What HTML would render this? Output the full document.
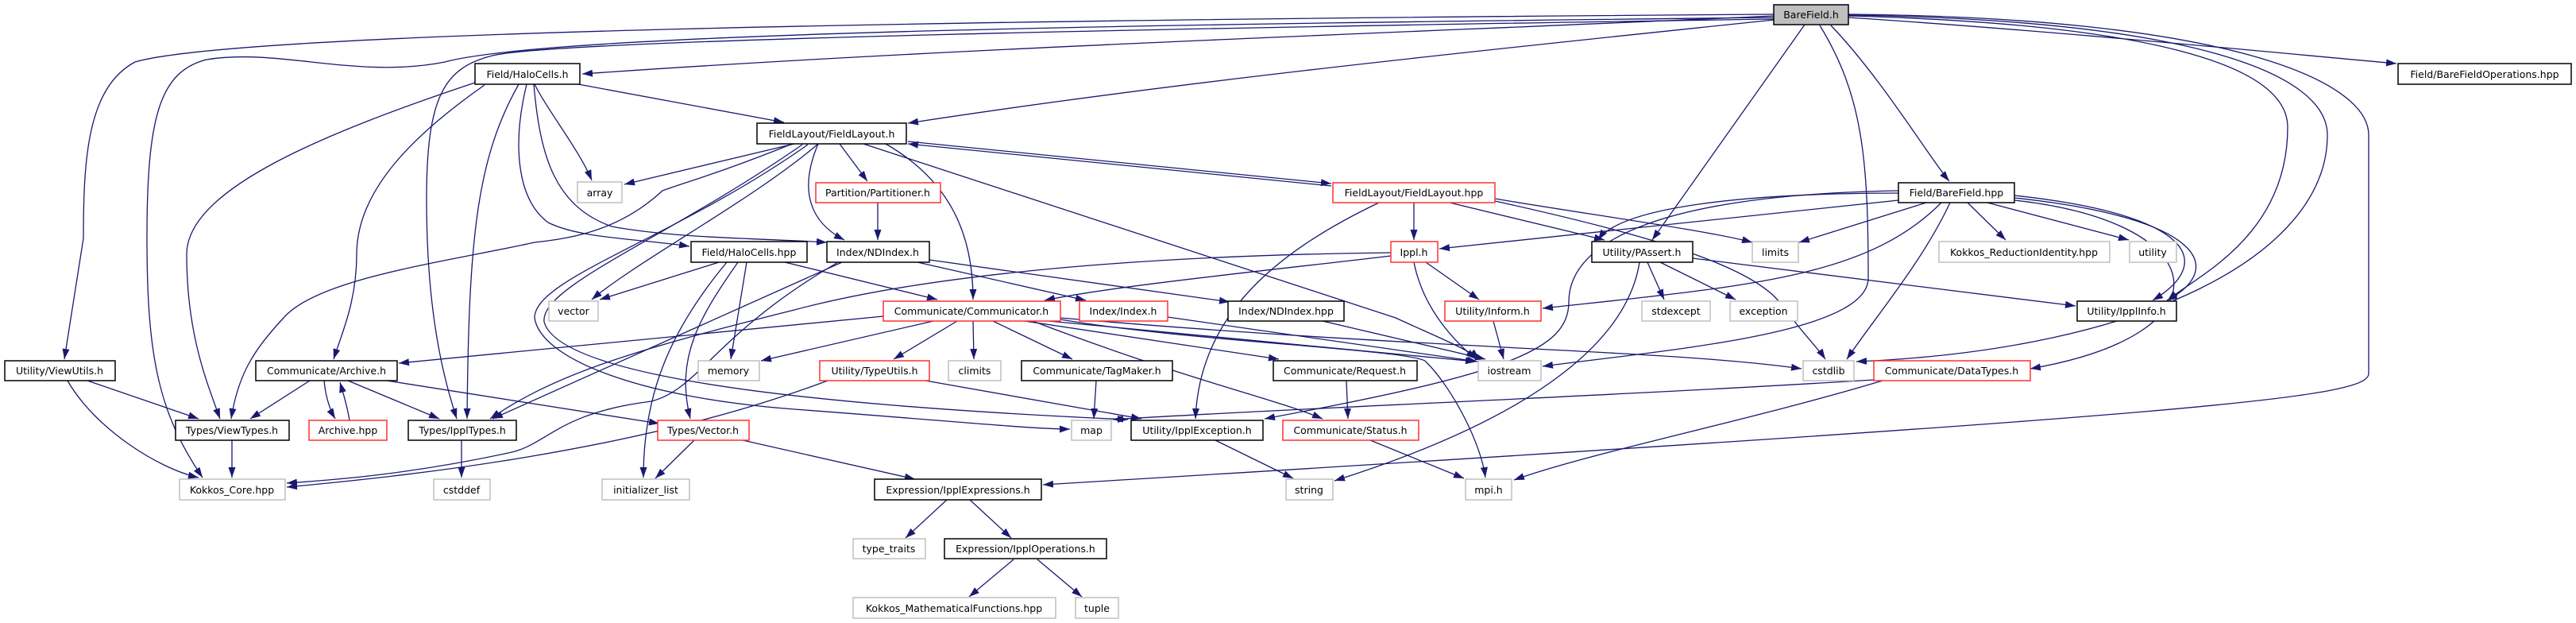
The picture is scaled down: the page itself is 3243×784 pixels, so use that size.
<!DOCTYPE html>
<html><head><meta charset="utf-8"><style>
html,body{margin:0;padding:0;background:#fff;}
svg{display:block;}
text{font-family:"DejaVu Sans","Liberation Sans",sans-serif;font-size:12.5px;fill:#000;}
.e{fill:none;stroke:#191970;stroke-width:1.3;marker-end:url(#a);}
.n rect{fill:#fff;stroke:#000;stroke-width:1.5;}
.g rect{fill:#fff;stroke:#bfbfbf;stroke-width:1.5;}
.r rect{fill:#fff;stroke:#ff3030;stroke-width:1.5;}
</style></head><body>
<svg width="3243" height="784" viewBox="0 0 3243 784" xmlns="http://www.w3.org/2000/svg">
<defs><marker id="a" markerUnits="userSpaceOnUse" markerWidth="13" markerHeight="10" viewBox="0 0 13 10" refX="13" refY="5" orient="auto"><path d="M0,0.5 L13,5 L0,9.5 z" fill="#191970"/></marker></defs>

<!-- edges -->
<path class="e" d="M2233,20 C1800,40 1200,60 733,93"/>
<path class="e" d="M2233,25 C1900,60 1500,100 1143,155"/>
<path class="e" d="M2233,18 C1200,25 300,40 170,78 C110,110 105,200 105,300 L81,452"/>
<path class="e" d="M2233,22 C1500,30 700,40 560,78 C450,100 350,60 260,75 C200,90 185,150 185,300 C185,450 200,520 255,601"/>
<path class="e" d="M2233,24 C1500,35 700,50 620,70 C560,85 537,120 537,250 C537,400 560,480 575,527"/>
<path class="e" d="M2272,31 L2080,302"/>
<path class="e" d="M2291,32 C2345,120 2352,200 2352,350 C2352,420 2100,440 1942,461"/>
<path class="e" d="M2305,32 C2370,100 2430,200 2454,228"/>
<path class="e" d="M2327,22 C2600,40 2850,65 3017,80"/>
<path class="e" d="M2327,20 C2700,30 2880,80 2880,160 C2880,300 2760,350 2729,378"/>
<path class="e" d="M2327,19 C2750,25 2930,90 2930,170 C2930,320 2700,440 2337,455"/>
<path class="e" d="M2327,18 C2800,22 2982,100 2982,170 L2982,470 C2982,500 2800,520 1313,610"/>

<path class="e" d="M728,106 L987,154"/>
<path class="e" d="M673,106 C690,140 730,190 745,227"/>
<path class="e" d="M663,106 C645,180 650,250 690,280 C730,300 800,300 868,310"/>
<path class="e" d="M672,106 C680,200 700,260 770,285 C850,300 960,300 1041,305"/>
<path class="e" d="M653,106 C600,200 590,300 588,527"/>
<path class="e" d="M598,104 C400,170 235,240 235,320 C235,420 260,480 277,527"/>
<path class="e" d="M610,107 C520,170 449,240 449,320 C449,380 430,420 420,452"/>

<path class="e" d="M1000,181 L786,232"/>
<path class="e" d="M1057,181 L1092,228"/>
<path class="e" d="M1030,181 C1005,240 1020,280 1063,302"/>
<path class="e" d="M1143,178 L1676,231"/>
<path class="e" d="M1676,234 L1143,181"/>
<path class="e" d="M1030,181 C950,250 800,330 745,377"/>
<path class="e" d="M1115,181 C1200,230 1225,300 1225,377"/>
<path class="e" d="M1087,181 L1757,400 C1800,420 1850,440 1862,452"/>
<path class="e" d="M995,182 C900,220 860,230 834,240 C780,290 720,300 673,305 C560,330 400,350 357,400 C320,440 300,470 291,527"/>
<path class="e" d="M1017,182 C850,300 673,350 673,400 C680,450 800,500 1000,515 C1200,530 1300,540 1347,540"/>
<path class="e" d="M1010,182 C840,300 680,360 685,405 C700,460 900,505 1420,528"/>

<path class="e" d="M905,330 L755,377"/>
<path class="e" d="M940,330 L920,452"/>
<path class="e" d="M988,330 L1180,377"/>
<path class="e" d="M929,330 C880,400 850,450 869,527"/>
<path class="e" d="M915,330 C840,420 810,500 810,601"/>
<path class="e" d="M1060,330 L620,527"/>
<path class="e" d="M1055,330 C900,420 880,490 820,505 C700,520 690,560 640,570 C500,600 400,605 361,608"/>
<path class="e" d="M1155,330 L1367,378"/>
<path class="e" d="M1170,327 L1548,380"/>
<path class="e" d="M1105,255 L1105,302"/>

<path class="e" d="M1780,255 L1780,302"/>
<path class="e" d="M1825,255 L2020,302"/>
<path class="e" d="M1882,250 C2000,270 2150,290 2206,305"/>
<path class="e" d="M1882,253 C2050,290 2200,330 2240,380 C2270,420 2290,440 2298,452"/>
<path class="e" d="M1736,255 C1600,320 1510,400 1505,527"/>

<path class="e" d="M2390,252 L1812,313"/>
<path class="e" d="M2390,243 C2200,243 2040,260 2012,302"/>
<path class="e" d="M2390,240 C2100,245 1975,300 1975,380 C1975,440 1900,470 1592,527"/>
<path class="e" d="M2425,255 L2265,305"/>
<path class="e" d="M2455,255 C2420,330 2360,400 2325,452"/>
<path class="e" d="M2477,255 L2525,302"/>
<path class="e" d="M2502,255 L2680,302"/>
<path class="e" d="M2536,246 C2760,270 2790,330 2710,378"/>
<path class="e" d="M2536,249 C2780,275 2800,340 2728,378"/>
<path class="e" d="M2536,252 C2790,280 2810,420 2556,464"/>
<path class="e" d="M2444,255 C2350,350 2200,360 1942,388"/>
<path class="e" d="M2359,478 C2000,500 1600,515 1401,528"/>
<path class="e" d="M2370,479 C2200,530 2000,570 1906,604"/>

<path class="e" d="M1751,322 C1600,340 1400,360 1315,378"/>
<path class="e" d="M1795,330 L1862,377"/>
<path class="e" d="M1780,330 C1790,380 1820,420 1858,452"/>
<path class="e" d="M1751,318 C1400,322 1150,350 1000,390 C800,440 700,470 617,527"/>

<path class="e" d="M2074,330 L2095,377"/>
<path class="e" d="M2090,330 L2185,377"/>
<path class="e" d="M2131,325 L2613,385"/>
<path class="e" d="M2064,330 C2050,420 1950,520 1680,605"/>

<path class="e" d="M1112,398 L502,457"/>
<path class="e" d="M1175,404 L958,454"/>
<path class="e" d="M1205,404 L1125,452"/>
<path class="e" d="M1225,404 L1226,452"/>
<path class="e" d="M1250,404 L1350,452"/>
<path class="e" d="M1290,404 L1610,452"/>
<path class="e" d="M1300,404 C1500,480 1600,500 1665,527"/>
<path class="e" d="M1335,402 C1500,430 1780,440 1795,455 C1830,490 1865,560 1870,601"/>
<path class="e" d="M1335,400 C1800,440 2100,440 2268,464"/>
<path class="e" d="M1320,404 L1858,455"/>
<path class="e" d="M1470,399 L1860,455"/>
<path class="e" d="M1665,404 L1870,452"/>
<path class="e" d="M1880,404 L1893,452"/>

<path class="e" d="M1042,479 C800,570 500,600 361,613"/>
<path class="e" d="M1165,479 L1437,527"/>
<path class="e" d="M1380,479 L1377,527"/>
<path class="e" d="M1695,479 L1697,527"/>
<path class="e" d="M1530,554 L1628,602"/>
<path class="e" d="M1725,554 L1843,602"/>

<path class="e" d="M390,479 L315,527"/>
<path class="e" d="M408,479 C410,500 415,515 422,527"/>
<path class="e" d="M438,479 L553,527"/>
<path class="e" d="M487,479 L830,533"/>
<path class="e" d="M440,529 C437,510 432,495 428,481"/>
<path class="e" d="M110,479 L250,527"/>
<path class="e" d="M85,479 C120,540 200,590 250,601"/>
<path class="e" d="M292,554 L292,601"/>
<path class="e" d="M581,554 L581,601"/>
<path class="e" d="M874,554 L825,602"/>
<path class="e" d="M935,554 L1152,603"/>
<path class="e" d="M1192,629 L1140,677"/>
<path class="e" d="M1221,629 L1273,677"/>
<path class="e" d="M1276,704 L1220,751"/>
<path class="e" d="M1306,704 L1362,751"/>

<!-- nodes -->
<g class="n"><rect x="2233" y="6" width="94" height="25" style="fill:#bfbfbf"/><text x="2280" y="23" text-anchor="middle">BareField.h</text></g>
<g class="n"><rect x="598" y="80" width="132" height="26"/><text x="664" y="98" text-anchor="middle">Field/HaloCells.h</text></g>
<g class="n"><rect x="3019" y="80" width="218" height="26"/><text x="3128" y="98" text-anchor="middle">Field/BareFieldOperations.hpp</text></g>
<g class="n"><rect x="953" y="155" width="188" height="26"/><text x="1047" y="173" text-anchor="middle">FieldLayout/FieldLayout.h</text></g>
<g class="g"><rect x="727" y="229" width="56" height="26"/><text x="755" y="247" text-anchor="middle">array</text></g>
<g class="r"><rect x="1027" y="230" width="157" height="25"/><text x="1105" y="247" text-anchor="middle">Partition/Partitioner.h</text></g>
<g class="r"><rect x="1678" y="230" width="204" height="25"/><text x="1780" y="247" text-anchor="middle">FieldLayout/FieldLayout.hpp</text></g>
<g class="n"><rect x="2390" y="230" width="146" height="25"/><text x="2463" y="247" text-anchor="middle">Field/BareField.hpp</text></g>
<g class="n"><rect x="870" y="304" width="146" height="26"/><text x="943" y="322" text-anchor="middle">Field/HaloCells.hpp</text></g>
<g class="n"><rect x="1041" y="304" width="129" height="26"/><text x="1105" y="322" text-anchor="middle">Index/NDIndex.h</text></g>
<g class="r"><rect x="1751" y="304" width="59" height="26"/><text x="1780" y="322" text-anchor="middle">Ippl.h</text></g>
<g class="n"><rect x="2004" y="304" width="127" height="26"/><text x="2067" y="322" text-anchor="middle">Utility/PAssert.h</text></g>
<g class="g"><rect x="2206" y="304" width="58" height="26"/><text x="2235" y="322" text-anchor="middle">limits</text></g>
<g class="g"><rect x="2441" y="304" width="215" height="26"/><text x="2548" y="322" text-anchor="middle">Kokkos_ReductionIdentity.hpp</text></g>
<g class="g"><rect x="2681" y="304" width="59" height="26"/><text x="2710" y="322" text-anchor="middle">utility</text></g>
<g class="g"><rect x="691" y="379" width="62" height="25"/><text x="722" y="396" text-anchor="middle">vector</text></g>
<g class="r"><rect x="1112" y="379" width="223" height="25"/><text x="1223" y="396" text-anchor="middle">Communicate/Communicator.h</text></g>
<g class="r"><rect x="1359" y="379" width="111" height="25"/><text x="1414" y="396" text-anchor="middle">Index/Index.h</text></g>
<g class="n"><rect x="1546" y="379" width="146" height="25"/><text x="1619" y="396" text-anchor="middle">Index/NDIndex.hpp</text></g>
<g class="r"><rect x="1819" y="379" width="121" height="25"/><text x="1879" y="396" text-anchor="middle">Utility/Inform.h</text></g>
<g class="g"><rect x="2067" y="379" width="86" height="25"/><text x="2110" y="396" text-anchor="middle">stdexcept</text></g>
<g class="g"><rect x="2178" y="379" width="85" height="25"/><text x="2220" y="396" text-anchor="middle">exception</text></g>
<g class="n"><rect x="2615" y="379" width="125" height="25"/><text x="2677" y="396" text-anchor="middle">Utility/IpplInfo.h</text></g>
<g class="n"><rect x="6" y="454" width="139" height="25"/><text x="75" y="471" text-anchor="middle">Utility/ViewUtils.h</text></g>
<g class="n"><rect x="322" y="454" width="178" height="25"/><text x="411" y="471" text-anchor="middle">Communicate/Archive.h</text></g>
<g class="g"><rect x="879" y="454" width="77" height="25"/><text x="917" y="471" text-anchor="middle">memory</text></g>
<g class="r"><rect x="1032" y="454" width="138" height="25"/><text x="1101" y="471" text-anchor="middle">Utility/TypeUtils.h</text></g>
<g class="g"><rect x="1194" y="454" width="66" height="25"/><text x="1227" y="471" text-anchor="middle">climits</text></g>
<g class="n"><rect x="1286" y="454" width="190" height="25"/><text x="1381" y="471" text-anchor="middle">Communicate/TagMaker.h</text></g>
<g class="n"><rect x="1603" y="454" width="181" height="25"/><text x="1693" y="471" text-anchor="middle">Communicate/Request.h</text></g>
<g class="g"><rect x="1861" y="454" width="79" height="25"/><text x="1900" y="471" text-anchor="middle">iostream</text></g>
<g class="g"><rect x="2270" y="454" width="64" height="25"/><text x="2302" y="471" text-anchor="middle">cstdlib</text></g>
<g class="r"><rect x="2359" y="454" width="197" height="25"/><text x="2457" y="471" text-anchor="middle">Communicate/DataTypes.h</text></g>
<g class="n"><rect x="221" y="529" width="143" height="25"/><text x="292" y="546" text-anchor="middle">Types/ViewTypes.h</text></g>
<g class="r"><rect x="389" y="529" width="98" height="25"/><text x="438" y="546" text-anchor="middle">Archive.hpp</text></g>
<g class="n"><rect x="514" y="529" width="136" height="25"/><text x="582" y="546" text-anchor="middle">Types/IpplTypes.h</text></g>
<g class="r"><rect x="828" y="529" width="115" height="25"/><text x="885" y="546" text-anchor="middle">Types/Vector.h</text></g>
<g class="g"><rect x="1349" y="529" width="50" height="25"/><text x="1374" y="546" text-anchor="middle">map</text></g>
<g class="n"><rect x="1424" y="529" width="166" height="25"/><text x="1507" y="546" text-anchor="middle">Utility/IpplException.h</text></g>
<g class="r"><rect x="1615" y="529" width="171" height="25"/><text x="1700" y="546" text-anchor="middle">Communicate/Status.h</text></g>
<g class="g"><rect x="226" y="603" width="133" height="26"/><text x="292" y="621" text-anchor="middle">Kokkos_Core.hpp</text></g>
<g class="g"><rect x="546" y="603" width="71" height="26"/><text x="581" y="621" text-anchor="middle">cstddef</text></g>
<g class="g"><rect x="758" y="603" width="110" height="26"/><text x="813" y="621" text-anchor="middle">initializer_list</text></g>
<g class="n"><rect x="1101" y="603" width="210" height="26"/><text x="1206" y="621" text-anchor="middle">Expression/IpplExpressions.h</text></g>
<g class="g"><rect x="1619" y="603" width="59" height="26"/><text x="1648" y="621" text-anchor="middle">string</text></g>
<g class="g"><rect x="1845" y="603" width="58" height="26"/><text x="1874" y="621" text-anchor="middle">mpi.h</text></g>
<g class="g"><rect x="1074" y="678" width="91" height="25"/><text x="1119" y="695" text-anchor="middle">type_traits</text></g>
<g class="n"><rect x="1189" y="678" width="204" height="25"/><text x="1291" y="695" text-anchor="middle">Expression/IpplOperations.h</text></g>
<g class="g"><rect x="1074" y="752" width="255" height="26"/><text x="1201" y="770" text-anchor="middle">Kokkos_MathematicalFunctions.hpp</text></g>
<g class="g"><rect x="1354" y="752" width="54" height="26"/><text x="1381" y="770" text-anchor="middle">tuple</text></g>
</svg>
</body></html>
